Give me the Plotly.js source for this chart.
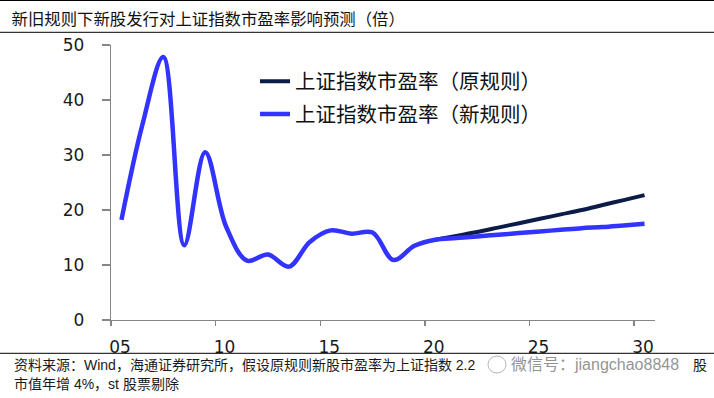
<!DOCTYPE html>
<html>
<head>
<meta charset="utf-8">
<script src="https://cdn.plot.ly/plotly-3.0.1.min.js"></script>
<style>
  html, body { margin: 0; padding: 0; background: #ffffff; }
  #chart { width: 714px; height: 398px; }
</style>
</head>
<body>
<div id="chart"></div>
<script>
// Shanghai Composite P/E: history plus projection under the two IPO rules
const years = [2005, 2006, 2007, 2008, 2009, 2010, 2011, 2012, 2013, 2014, 2015, 2016, 2017,
               2018, 2019, 2020, 2021, 2022, 2023, 2024, 2025, 2026, 2027, 2028, 2029, 2030];
const peNewRule = [18.2, 35.5, 47.8, 13.6, 30.5, 17.0, 10.8, 11.9, 9.7, 14.2, 16.3, 15.7, 15.9,
                   10.9, 13.5, 14.6, 14.9, 15.2, 15.5, 15.8, 16.1, 16.4, 16.7, 16.9, 17.2, 17.5];
const projYears = [2020, 2021, 2022, 2023, 2024, 2025, 2026, 2027, 2028, 2029, 2030];
const peOldRule = [14.6, 15.3, 16.0, 16.8, 17.6, 18.4, 19.2, 20.0, 20.9, 21.8, 22.7];

const seriesNames = ['上证指数市盈率（原规则）', '上证指数市盈率（新规则）'];
const tickYears = [2005, 2010, 2015, 2020, 2025, 2030];
const tickLabels = ['05', '10', '15', '20', '25', '30'];

const titleText = '新旧规则下新股发行对上证指数市盈率影响预测（倍）';
const sourceLine1 = '资料来源：Wind，海通证券研究所，假设原规则新股市盈率为上证指数 2.2';
const sourceLine2 = '市值年增 4%，st 股票剔除';
const sourceTail = '股';
const watermark = '微信号：jiangchao8848';

const cjk = 'Liberation Sans, Noto Sans CJK SC, sans-serif';
const axisGray = '#868686';

// plot area in pixels
const L = 111, R = 59, T = 45, B = 78, W = 714, H = 398;
const pw = W - L - R, ph = H - T - B;
const px = x => (x - L) / pw;          // page x -> paper x
const py = y => (T + ph - y) / ph;     // page y -> paper y

const traces = [
  {
    x: projYears, y: peOldRule, name: seriesNames[0], type: 'scatter', mode: 'lines',
    legendgroup: 'old',
    line: { color: '#0c1c48', width: 4, shape: 'spline', smoothing: 1 }
  },
  {
    x: years, y: peNewRule, name: seriesNames[1], type: 'scatter', mode: 'lines',
    legendgroup: 'new',
    line: { color: '#3333ff', width: 4.5, shape: 'spline', smoothing: 1 }
  }
];

const hline = y => ({
  type: 'line', xref: 'paper', yref: 'paper',
  x0: px(0), x1: px(W), y0: py(y), y1: py(y),
  line: { color: '#000000', width: 1 }
});

const layout = {
  width: W, height: H,
  margin: { l: L, r: R, t: T, b: B, pad: 0 },
  paper_bgcolor: '#ffffff', plot_bgcolor: '#ffffff',
  showlegend: true,
  title: {
    text: titleText,
    xref: 'container', yref: 'container',
    x: 11.5 / W, xanchor: 'left', y: 1 - 19 / H, yanchor: 'middle',
    font: { family: cjk, size: 16.4, color: '#111111' }
  },
  xaxis: {
    range: [2004.5, 2030.5],
    tickmode: 'array',
    // ticks sit on the year boundaries, labels are shifted to the year centre
    tickvals: tickYears.map(v => v - 0.5),
    ticktext: tickLabels,
    ticklabelshift: 9,
    ticklabelstandoff: 6,
    ticks: 'outside', ticklen: 5, tickwidth: 1.3, tickcolor: axisGray,
    showline: true, linecolor: axisGray, linewidth: 1.3,
    showgrid: false, zeroline: false,
    tickfont: { family: 'DejaVu Sans, sans-serif', size: 17, color: '#1a1a1a' }
  },
  yaxis: {
    range: [0, 50], dtick: 10, tick0: 0,
    ticks: 'outside', ticklen: 8, tickwidth: 1.3, tickcolor: axisGray,
    ticklabelstandoff: 14,
    showline: true, linecolor: axisGray, linewidth: 1.3,
    showgrid: false, zeroline: false,
    tickfont: { family: 'DejaVu Sans, sans-serif', size: 17, color: '#1a1a1a' }
  },
  legend: {
    x: px(255), xanchor: 'left', y: py(61.5), yanchor: 'top',
    bgcolor: 'rgba(0,0,0,0)', borderwidth: 0,
    traceorder: 'grouped', tracegroupgap: 3,
    font: { family: cjk, size: 20.5, color: '#111111' }
  },
  shapes: [
    hline(0.5), hline(32.3), hline(353.3),
    {
      type: 'circle', xref: 'paper', yref: 'paper',
      x0: px(488), x1: px(506), y0: py(373), y1: py(356),
      line: { color: 'rgba(150,150,150,0.7)', width: 1 }
    }
  ],
  annotations: [
    {
      text: sourceLine1, xref: 'paper', yref: 'paper', x: px(11.5), y: py(365),
      xanchor: 'left', yanchor: 'middle', showarrow: false,
      font: { family: cjk, size: 14, color: '#1a1a1a' }
    },
    {
      text: sourceTail, xref: 'paper', yref: 'paper', x: px(709), y: py(365),
      xanchor: 'right', yanchor: 'middle', showarrow: false,
      font: { family: cjk, size: 14, color: '#1a1a1a' }
    },
    {
      text: sourceLine2, xref: 'paper', yref: 'paper', x: px(11.5), y: py(383.5),
      xanchor: 'left', yanchor: 'middle', showarrow: false,
      font: { family: cjk, size: 14, color: '#1a1a1a' }
    },
    {
      text: watermark, xref: 'paper', yref: 'paper', x: px(509), y: py(364),
      xanchor: 'left', yanchor: 'middle', showarrow: false,
      font: { family: cjk, size: 16, color: 'rgba(110,110,110,0.75)' }
    }
  ]
};

Plotly.newPlot('chart', traces, layout, { displayModeBar: false, staticPlot: true });
</script>
</body>
</html>
